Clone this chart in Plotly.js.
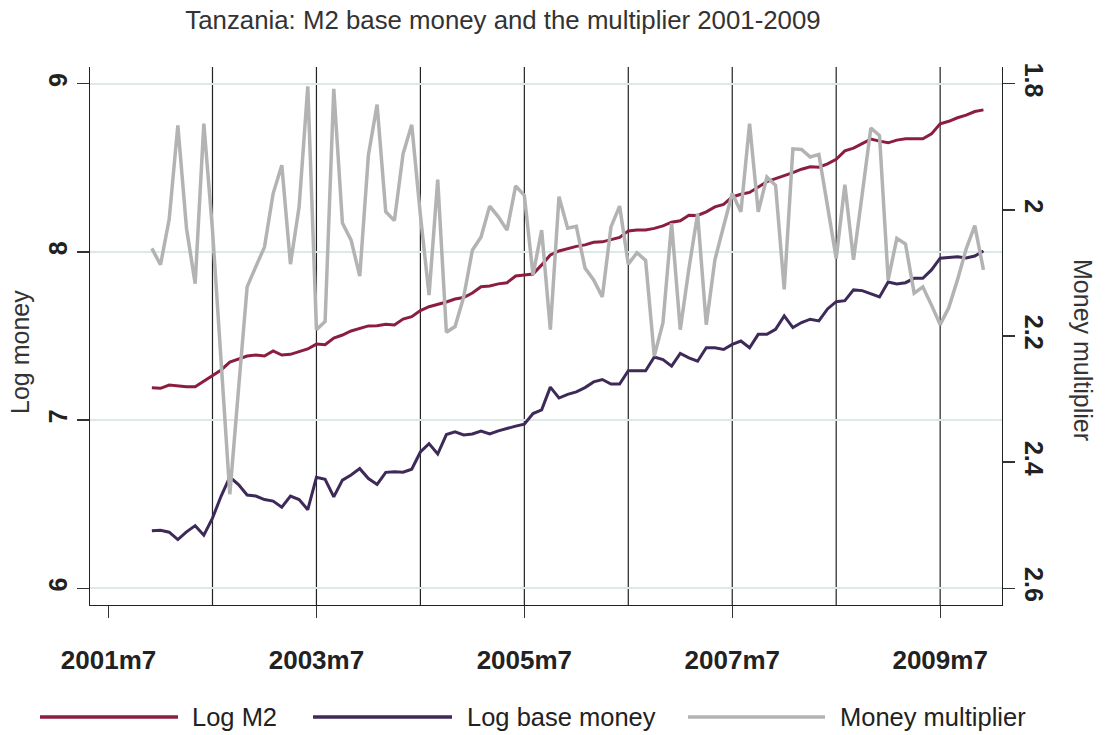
<!DOCTYPE html>
<html>
<head>
<meta charset="utf-8">
<script src="https://cdn.plot.ly/plotly-3.0.1.min.js"></script>
<style>html,body{margin:0;padding:0;background:#fff;}#chart{width:1114px;height:735px;}</style>
</head>
<body>
<div id="chart"></div>
<script>
// Monthly data, 2001m12 .. 2009m12 (Stata monthly index: months since 1960m1)
const startMonth = 503; // 2001m12
const logM2 = [
7.192,7.189,7.208,7.202,7.198,7.198,7.232,7.262,7.298,7.345,7.363,7.381,
7.387,7.381,7.411,7.387,7.391,7.407,7.423,7.452,7.448,7.488,7.506,7.530,
7.546,7.560,7.561,7.570,7.565,7.601,7.615,7.651,7.674,7.686,7.702,7.720,
7.729,7.756,7.793,7.798,7.810,7.817,7.857,7.863,7.869,7.923,7.982,8.006,
8.021,8.033,8.042,8.057,8.060,8.074,8.086,8.125,8.131,8.131,8.140,8.155,
8.177,8.185,8.218,8.217,8.238,8.268,8.283,8.327,8.343,8.354,8.387,8.418,
8.436,8.452,8.472,8.492,8.506,8.504,8.524,8.551,8.601,8.617,8.646,8.671,
8.659,8.649,8.665,8.673,8.673,8.673,8.702,8.762,8.777,8.798,8.814,8.835,
8.845];
const logBase = [
6.341,6.345,6.333,6.289,6.335,6.372,6.315,6.417,6.548,6.661,6.616,6.554,
6.548,6.527,6.518,6.482,6.548,6.527,6.467,6.659,6.647,6.543,6.643,6.673,
6.711,6.652,6.617,6.689,6.692,6.690,6.708,6.810,6.860,6.798,6.914,6.930,
6.911,6.917,6.935,6.917,6.936,6.951,6.964,6.976,7.039,7.061,7.196,7.131,
7.153,7.168,7.193,7.227,7.241,7.214,7.214,7.293,7.293,7.293,7.375,7.360,
7.321,7.396,7.370,7.350,7.430,7.430,7.420,7.450,7.470,7.430,7.510,7.510,
7.540,7.620,7.550,7.580,7.600,7.590,7.661,7.704,7.710,7.774,7.770,7.750,
7.732,7.821,7.810,7.817,7.843,7.843,7.893,7.963,7.969,7.972,7.964,7.976,
8.006];
const multiplier = [
2.061,2.087,2.015,1.866,2.029,2.117,1.863,2.032,2.241,2.451,2.285,2.122,
2.090,2.059,1.974,1.929,2.086,1.995,1.804,2.190,2.177,1.808,2.021,2.048,
2.105,1.913,1.833,2.003,2.017,1.911,1.865,2.008,2.135,1.952,2.194,2.185,
2.138,2.064,2.043,1.994,2.011,2.032,1.962,1.977,2.103,2.032,2.190,1.979,
2.029,2.026,2.092,2.111,2.138,2.027,1.994,2.086,2.068,2.080,2.232,2.179,
2.021,2.190,2.093,2.006,2.182,2.079,2.026,1.974,2.003,1.863,2.003,1.948,
1.961,2.126,1.903,1.904,1.916,1.912,1.994,2.077,1.960,2.079,1.975,1.870,
1.882,2.111,2.045,2.054,2.132,2.122,2.151,2.182,2.155,2.111,2.062,2.025,
2.095];
const xTickVals = [498, 522, 546, 570, 594];
const xTickText = ['2001m7', '2003m7', '2005m7', '2007m7', '2009m7'];
const julyLines = [510, 522, 534, 546, 558, 570, 582, 594]; // 2002m7 .. 2009m7
const seriesNames = ['Log M2', 'Log base money', 'Money multiplier'];
const seriesColors = ['#8b1e3f', '#3e2a58', '#b3b3b3'];

const months = [];
for (let i = 0; i < logM2.length; i++) months.push(startMonth + i);

const FONT = 'Liberation Sans, Arial, Helvetica, sans-serif';

const traces = [
  {x: months, y: logM2, type: 'scatter', mode: 'lines', name: seriesNames[0],
   line: {color: seriesColors[0], width: 3}, yaxis: 'y', showlegend: false},
  {x: months, y: logBase, type: 'scatter', mode: 'lines', name: seriesNames[1],
   line: {color: seriesColors[1], width: 3}, yaxis: 'y', showlegend: false},
  {x: months, y: multiplier, type: 'scatter', mode: 'lines', name: seriesNames[2],
   line: {color: seriesColors[2], width: 3.5}, yaxis: 'y2', showlegend: false}
];

const shapes = julyLines.map(m => ({
  type: 'line', xref: 'x', yref: 'paper', x0: m, x1: m, y0: 0, y1: 1,
  line: {color: '#222', width: 1.2}, layer: 'between'
}));

// custom legend (long line samples)
const legY = -0.208;
const legItems = [
  {x0: 40, x1: 178, tx: 190},
  {x0: 313, x1: 452, tx: 465},
  {x0: 688, x1: 825, tx: 838}
];
const px = v => (v - 90) / 912;
const annotations = [];
legItems.forEach((it, k) => {
  shapes.push({type: 'line', xref: 'paper', yref: 'paper', x0: px(it.x0), x1: px(it.x1),
    y0: legY, y1: legY, line: {color: seriesColors[k], width: 3.5}});
  annotations.push({xref: 'paper', yref: 'paper', x: px(it.tx), y: legY, xanchor: 'left',
    yanchor: 'middle', text: seriesNames[k], showarrow: false,
    font: {family: FONT, size: 25.5, color: '#222'}});
});
annotations.push({xref: 'paper', yref: 'paper', x: px(1083), y: (605 - 350) / 538,
  xanchor: 'center', yanchor: 'middle', text: 'Money multiplier', textangle: 90,
  showarrow: false, font: {family: FONT, size: 25, color: '#333'}});
annotations.push({xref: 'paper', yref: 'paper', x: px(20), y: (605 - 352) / 538,
  xanchor: 'center', yanchor: 'middle', text: 'Log money', textangle: -90,
  showarrow: false, font: {family: FONT, size: 25, color: '#333'}});

const layout = {
  width: 1114, height: 735,
  margin: {l: 90, r: 112, t: 67, b: 130},
  paper_bgcolor: '#fff', plot_bgcolor: '#fff',
  font: {family: FONT, color: '#222'},
  title: {text: 'Tanzania: M2 base money and the multiplier 2001-2009',
    xref: 'container', yref: 'container', x: 503 / 1114, xanchor: 'center',
    y: 1 - 20 / 735, yanchor: 'middle', font: {family: FONT, size: 25.8, color: '#333'}},
  xaxis: {range: [495.86, 601.14], tickvals: xTickVals, ticktext: xTickText,
    showgrid: false, zeroline: false, showline: true, linecolor: '#222', linewidth: 1.2,
    ticks: 'outside', ticklen: 12, tickcolor: '#333', tickwidth: 1.2, ticklabelstandoff: 20,
    tickfont: {family: FONT, size: 26, color: '#222', weight: 'bold'}, automargin: false},
  yaxis: {range: [5.9, 9.1], tickvals: [6, 7, 8, 9], ticktext: ['6', '7', '8', '9'],
    tickangle: -90, showgrid: true, gridcolor: '#dde9e9', gridwidth: 2, zeroline: false,
    showline: true, linecolor: '#222', linewidth: 1.2, ticks: 'outside', ticklen: 12,
    tickcolor: '#333', tickwidth: 1.2,
    tickfont: {family: FONT, size: 25, color: '#222', weight: 'bold'}, automargin: false},
  yaxis2: {overlaying: 'y', side: 'right', range: [2.6267, 1.7733],
    tickvals: [1.8, 2, 2.2, 2.4, 2.6], ticktext: ['1.8', '2', '2.2', '2.4', '2.6'],
    tickangle: 90, showgrid: false, zeroline: false, showline: true, linecolor: '#222',
    linewidth: 1.2, ticks: 'outside', ticklen: 12, tickcolor: '#333', tickwidth: 1.2,
    tickfont: {family: FONT, size: 25, color: '#222', weight: 'bold'}, automargin: false},
  shapes: shapes,
  annotations: annotations,
  showlegend: false
};

Plotly.newPlot('chart', traces, layout, {staticPlot: true, displayModeBar: false});
</script>
</body>
</html>
